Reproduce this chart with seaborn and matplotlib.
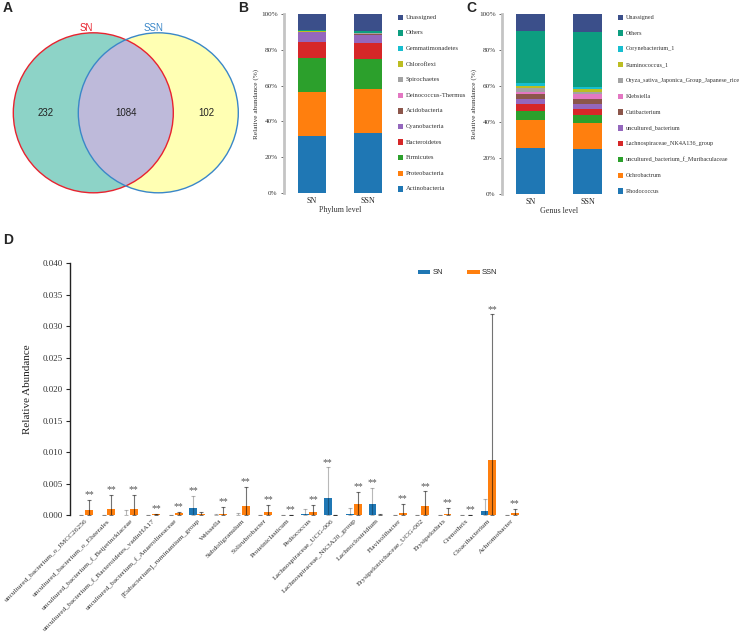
import numpy as np
import pandas as pd
import matplotlib
matplotlib.use('Agg')
import matplotlib.pyplot as plt
import seaborn as sns
from matplotlib.patches import Circle, Patch

# ---------------- data ----------------
venn_sets = ['SN', 'SSN']
venn_counts = [232, 1084, 102]          # SN only, shared, SSN only

samples = ['SN', 'SSN']
phyla = ['Actinobacteria', 'Proteobacteria', 'Firmicutes', 'Bacteroidetes',
         'Cyanobacteria', 'Acidobacteria', 'Deinococcus-Thermus', 'Spirochaetes',
         'Chloroflexi', 'Gemmatimonadetes', 'Others', 'Unassigned']
phylum_SN = [31.8, 24.5, 19.3, 8.8, 5.3, 0.3, 0.1, 0.1, 0.1, 0.1, 0.8, 8.8]
phylum_SSN = [33.4, 24.5, 17.0, 8.7, 4.8, 0.5, 0.1, 0.3, 0.1, 0.2, 0.9, 9.5]

genera = ['Rhodococcus', 'Ochrobactrum', 'uncultured_bacterium_f_Muribaculaceae',
          'Lachnospiraceae_NK4A136_group', 'uncultured_bacterium', 'Cutibacterium',
          'Klebsiella', 'Oryza_sativa_Japonica_Group_Japanese_rice', 'Ruminococcus_1',
          'Corynebacterium_1', 'Others', 'Unassigned']
genus_SN = [25.7, 15.4, 5.2, 3.9, 2.8, 2.6, 1.4, 2.3, 1.1, 1.4, 28.8, 9.4]
genus_SSN = [25.0, 14.4, 4.5, 3.5, 2.6, 2.8, 2.8, 1.5, 1.4, 1.3, 30.2, 10.0]

stack_colors = ['#1f77b4', '#ff7f0e', '#2ca02c', '#d62728', '#9467bd', '#8c564b',
                '#e377c2', '#a3a3a3', '#bcbd22', '#17becf', '#0d9e80', '#3b4f8a']

taxa = ['uncultured_bacterium_o_IMCC26256', 'uncultured_bacterium_o_Elsterales',
        'uncultured_bacterium_f_Beijerinckiaceae', 'uncultured_bacterium_f_Bacteroidetes_vadinHA17',
        'uncultured_bacterium_f_Anaerolineaceae', '[Eubacterium]_ruminantium_group',
        'Weissella', 'Subdoligranulum', 'Solirubrobacter', 'Proteiniclasticum',
        'Pediococcus', 'Lachnospiraceae_UCG-006', 'Lachnospiraceae_NK3A20_group',
        'Lachnoclostridium', 'Flavisolibacter', 'Erysipelotrichaceae_UCG-002',
        'Erysipelothrix', 'Crenothrix', 'Cloacibacterium', 'Achromobacter']
sn_mean = [0.00001, 0.00003, 0.0001, 0.00002, 0.00005, 0.00116, 0.00005, 0.0001, 0.00003,
           0.00002, 0.00017, 0.0027, 0.00026, 0.00184, 0.00001, 0.00001, 0.00001, 0.00001,
           0.00068, 0.00001]
sn_sd = [0.00001, 0.00002, 0.0007, 0.00002, 0.00005, 0.00194, 0.00015, 0.0003, 0.00002,
         0.00002, 0.00078, 0.0049, 0.00084, 0.00246, 0.00001, 0.00001, 0.00001, 0.00001,
         0.00192, 0.00001]
ssn_mean = [0.00084, 0.001, 0.00095, 0.00015, 0.0004, 0.0002, 0.00026, 0.0015, 0.0005,
            0.00004, 0.0005, 0.00005, 0.0018, 0.00005, 0.0004, 0.00153, 0.00024, 0.00008,
            0.0088, 0.0003]
ssn_sd = [0.00166, 0.0023, 0.00225, 0.0001, 0.0002, 0.0004, 0.00104, 0.003, 0.0012,
          0.00006, 0.0012, 0.00005, 0.0019, 0.00015, 0.0014, 0.00227, 0.00091, 0.00002,
          0.0231, 0.0007]
group_colors = {'SN': '#1f77b4', 'SSN': '#ff7f0e'}

# ---------------- figure ----------------
sns.set_theme(style='white')
plt.rcParams['font.family'] = ['Liberation Serif', 'DejaVu Sans']
W, H = 740, 637
fig = plt.figure(figsize=(W / 100, H / 100), dpi=100)


def box(x0, y0, x1, y1):
    return [x0 / W, 1 - y1 / H, (x1 - x0) / W, (y1 - y0) / H]


def fxy(x, y):
    return (x / W, 1 - y / H)


# panel letters
for letter, (px, py) in zip('ABCD', [(8, 8), (243, 8), (471, 8), (8, 240)]):
    fig.text(*fxy(px, py), letter, fontsize=10, fontweight='bold',
             family='Liberation Sans', ha='center', va='center')

# ---------------- A: Venn ----------------
axA = fig.add_axes(box(0, 0, 250, 220))
axA.set_xlim(0, 250)
axA.set_ylim(220, 0)
axA.axis('off')
c1 = Circle((93.3, 112.8), 80, facecolor='#8dd3c7', edgecolor='none', zorder=1)
c2 = Circle((158.3, 112.8), 80, facecolor='#ffffb3', edgecolor='none', zorder=1)
axA.add_patch(c1)
axA.add_patch(c2)
lens = Circle((93.3, 112.8), 80, facecolor='#bebada', edgecolor='none', zorder=2)
axA.add_patch(lens)
lens.set_clip_path(c2)
axA.add_patch(Circle((93.3, 112.8), 80, facecolor='none', edgecolor='#e8232f', lw=1.0, zorder=3))
axA.add_patch(Circle((158.3, 112.8), 80, facecolor='none', edgecolor='#3a87c8', lw=1.0, zorder=3))
axA.text(86, 28, venn_sets[0], color='#e8232f', fontsize=7, family='Liberation Sans', ha='center', va='center')
axA.text(153, 28, venn_sets[1], color='#3a87c8', fontsize=7, family='Liberation Sans', ha='center', va='center')
for (tx, n) in zip([45.7, 126, 206], venn_counts):
    axA.text(tx, 113, str(n), fontsize=7, family='Liberation Sans', ha='center', va='center', color='#222222')


# ---------------- B, C: stacked bars ----------------
def stacked(ax, names, v_sn, v_ssn, xlabel, leg_x, leg_y0, leg_pitch, leg_fs):
    df = pd.DataFrame({'sample': samples * len(names),
                       'taxon': np.repeat(names, 2),
                       'value': np.ravel(np.column_stack([v_sn, v_ssn]))})
    bottom = np.zeros(2)
    for name, col in zip(names, stack_colors):
        sub = df[df['taxon'] == name]
        sns.barplot(data=sub, x='sample', y='value', color=col, width=0.5,
                    bottom=bottom, ax=ax, linewidth=0, saturation=1)
        bottom = bottom + sub['value'].to_numpy()
    ax.set_xlim(-0.5, 1.5)
    ax.set_ylim(0, 100)
    ax.set_yticks(range(0, 101, 20))
    ax.set_yticklabels([f'{v}%' for v in range(0, 101, 20)], fontsize=5.2, color='#333333')
    ax.tick_params(axis='y', length=2.5, width=0.6, color='#555555', pad=2, left=True)
    ax.tick_params(axis='x', length=0, labelsize=5.8, pad=3)
    for s in ['top', 'right', 'bottom']:
        ax.spines[s].set_visible(False)
    ax.spines['left'].set_color('#c4c4c4')
    ax.spines['left'].set_linewidth(2)
    ax.set_xlabel(xlabel, fontsize=5.8, labelpad=0.5, color='#333333')
    ax.set_ylabel('Relative abundance (%)', fontsize=5.2, labelpad=1.5, color='#333333')
    # legend (top = last taxon)
    for i, (name, col) in enumerate(zip(names[::-1], stack_colors[::-1])):
        y = leg_y0 + i * leg_pitch
        fig.patches.append(matplotlib.patches.Rectangle(
            fxy(leg_x, y + 2.7), 5.5 / W, 5.5 / H, transform=fig.transFigure,
            facecolor=col, edgecolor='none', figure=fig))
        fig.text(*fxy(leg_x + 8, y), name, fontsize=leg_fs, va='center', ha='left', color='#333333')


axB = fig.add_axes(box(284, 14, 396, 193))
stacked(axB, phyla, phylum_SN, phylum_SSN, 'Phylum level', 398, 17.3, 15.6, 4.8)
axC = fig.add_axes(box(502, 14.3, 616, 194.3))
stacked(axC, genera, genus_SN, genus_SSN, 'Genus level', 617.5, 17.3, 15.8, 4.4)

# ---------------- D: grouped bars ----------------
axD = fig.add_axes(box(70, 263.3, 735, 515.3))
dfD = pd.DataFrame({
    'taxon': taxa * 2,
    'group': ['SN'] * len(taxa) + ['SSN'] * len(taxa),
    'value': sn_mean + ssn_mean,
})
sns.barplot(data=dfD, x='taxon', y='value', hue='group', palette=group_colors,
            width=0.7, errorbar=None, ax=axD, legend=False, saturation=1, linewidth=0)
tops = []
for cont, sd, alpha in zip(axD.containers, [sn_sd, ssn_sd], [0.28, 0.55]):
    xs = np.array([b.get_x() + b.get_width() / 2 for b in cont])
    ms = np.array([b.get_height() for b in cont])
    sd = np.array(sd)
    axD.errorbar(xs, ms, yerr=[ms, sd], fmt='none', ecolor='black', alpha=alpha,
                 elinewidth=0.8, capsize=1.6, capthick=0.8)
    tops.append((xs, ms + sd))
for i in range(len(taxa)):
    j = 0 if tops[0][1][i] > tops[1][1][i] else 1
    axD.text(tops[j][0][i], tops[j][1][i] + 0.0001, '**', fontsize=7, ha='center',
             va='bottom', color='#555555')
axD.set_xlim(-0.67, 29.0)
axD.set_ylim(0, 0.04)
axD.set_yticks(np.arange(0, 0.0401, 0.005))
axD.set_yticklabels([f'{v:.3f}' for v in np.arange(0, 0.0401, 0.005)], fontsize=6.5, color='#333333')
axD.tick_params(axis='y', length=3, width=0.8, left=True, pad=2)
axD.tick_params(axis='x', length=0, pad=2)
axD.set_xticks(range(len(taxa)))
axD.set_xticklabels(taxa, rotation=45, ha='right', va='top', rotation_mode='anchor',
                    fontsize=5.4, color='#333333')
for s in ['top', 'right', 'bottom']:
    axD.spines[s].set_visible(False)
axD.spines['left'].set_color('#222222')
axD.spines['left'].set_linewidth(1.0)
axD.set_xlabel('')
axD.set_ylabel('Relative Abundance', fontsize=8, labelpad=8, color='#222222')

handles = [Patch(facecolor=group_colors[g], edgecolor='none') for g in samples]
fig.legend(handles, samples, loc='center left', bbox_to_anchor=fxy(411, 273), ncol=2,
           frameon=False, handlelength=1.6, handleheight=0.35, handletextpad=0.3,
           columnspacing=3.2, prop={'family': 'Liberation Sans', 'size': 5.5})

fig.savefig('out.png', dpi=100)
